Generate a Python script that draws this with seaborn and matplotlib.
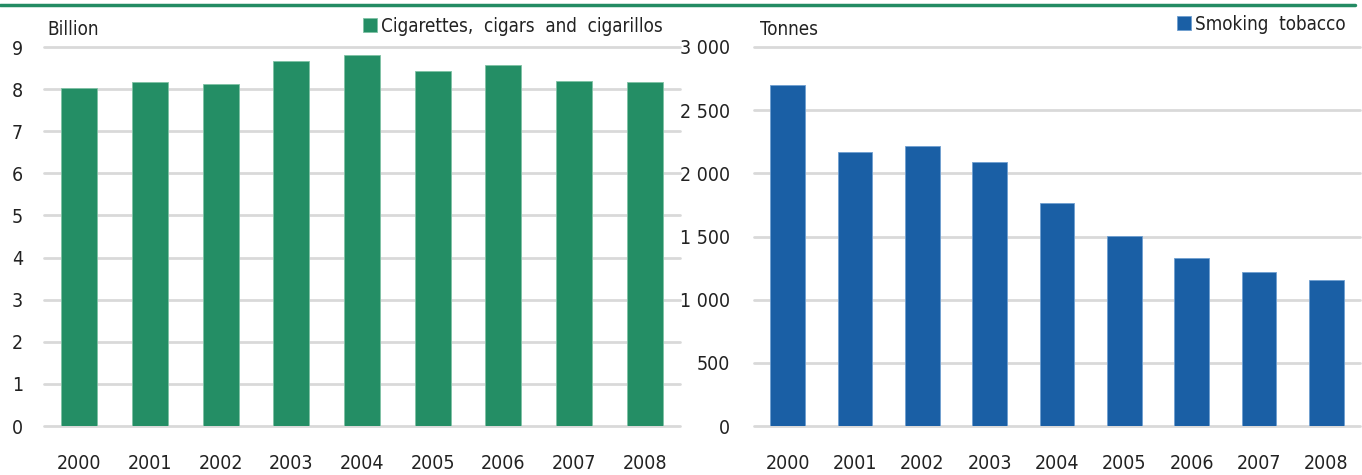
import matplotlib
matplotlib.use("Agg")
import matplotlib.pyplot as plt
import seaborn as sns
import pandas as pd
from matplotlib.ticker import FuncFormatter, MultipleLocator
from matplotlib.lines import Line2D

years = ["2000", "2001", "2002", "2003", "2004", "2005", "2006", "2007", "2008"]
cigarettes = [8.02, 8.16, 8.11, 8.67, 8.81, 8.44, 8.58, 8.20, 8.16]
smoking_tobacco = [2699, 2168, 2213, 2088, 1769, 1505, 1329, 1218, 1155]
left_unit = "Billion"
right_unit = "Tonnes"
left_label = "Cigarettes,  cigars  and  cigarillos"
right_label = "Smoking  tobacco"

GREEN = "#248e65"
BLUE = "#1a5fa5"
TXT = "#222222"
GRID = "#d9d9d9"

sns.set_theme(style="white")
plt.rcParams["font.family"] = ["DejaVu Sans"]
plt.rcParams["font.stretch"] = "condensed"
FS = 13
plt.rcParams["text.color"] = TXT
plt.rcParams["axes.labelcolor"] = TXT
plt.rcParams["xtick.color"] = TXT
plt.rcParams["ytick.color"] = TXT

W, H = 1362, 475
fig = plt.figure(figsize=(W / 100, H / 100), dpi=100)

def frac(x0, x1, ytop, ybot):
    return [x0 / W, (H - ybot) / H, (x1 - x0) / W, (ybot - ytop) / H]

ax1 = fig.add_axes(frac(44, 680, 47, 426))
ax2 = fig.add_axes(frac(754, 1360, 47, 426))

df1 = pd.DataFrame({"year": years, "value": cigarettes})
df2 = pd.DataFrame({"year": years, "value": smoking_tobacco})

sns.barplot(data=df1, x="year", y="value", color=GREEN, saturation=1, width=0.51,
            ax=ax1, label=left_label, zorder=3, edgecolor="#7fc2a5", linewidth=0.6)
sns.barplot(data=df2, x="year", y="value", color=BLUE, saturation=1, width=0.51,
            ax=ax2, label=right_label, zorder=3, edgecolor="#6f9fd0", linewidth=0.6)

ax1.set_ylim(0, 9)
ax1.yaxis.set_major_locator(MultipleLocator(1))
ax2.set_ylim(0, 3000)
ax2.yaxis.set_major_locator(MultipleLocator(500))
ax2.yaxis.set_major_formatter(FuncFormatter(lambda v, p: f"{int(v):,}".replace(",", " ")))

for ax, ypad in ((ax1, 15), (ax2, 17)):
    ax.set_xlim(-0.5, len(years) - 0.5)
    ax.set_xlabel("")
    ax.set_ylabel("")
    for s in ax.spines.values():
        s.set_visible(False)
    ax.grid(axis="y", color=GRID, linewidth=2, zorder=0)
    ax.set_axisbelow(True)
    ax.tick_params(axis="x", length=0, pad=20, labelsize=FS + 1)
    ax.tick_params(axis="y", length=0, pad=ypad, labelsize=FS + 1)
    for t in ax.get_yticklabels():
        t.set_horizontalalignment("right")
    for gl in ax.get_ygridlines():
        gl.set_clip_on(False)

fig.text(47 / W, (H - 29.5) / H, left_unit, fontsize=FS + 0.5, va="center", ha="left", color=TXT)
fig.text(760 / W, (H - 29.5) / H, right_unit, fontsize=FS + 0.5, va="center", ha="left", color=TXT)

leg_kw = dict(loc="center right", frameon=False, fontsize=FS + 0.5, handlelength=0.72,
              handleheight=0.72, handletextpad=0.25, borderpad=0, borderaxespad=0)
ax1.legend(bbox_to_anchor=(663 / W, (H - 26) / H), bbox_transform=fig.transFigure, **leg_kw)
ax2.legend(bbox_to_anchor=(1346 / W, (H - 24) / H), bbox_transform=fig.transFigure, **leg_kw)

fig.add_artist(Line2D([0, 1355 / W], [(H - 4.7) / H] * 2, transform=fig.transFigure,
                      color="#238b63", linewidth=2.5))

fig.savefig("out.png", dpi=100)
